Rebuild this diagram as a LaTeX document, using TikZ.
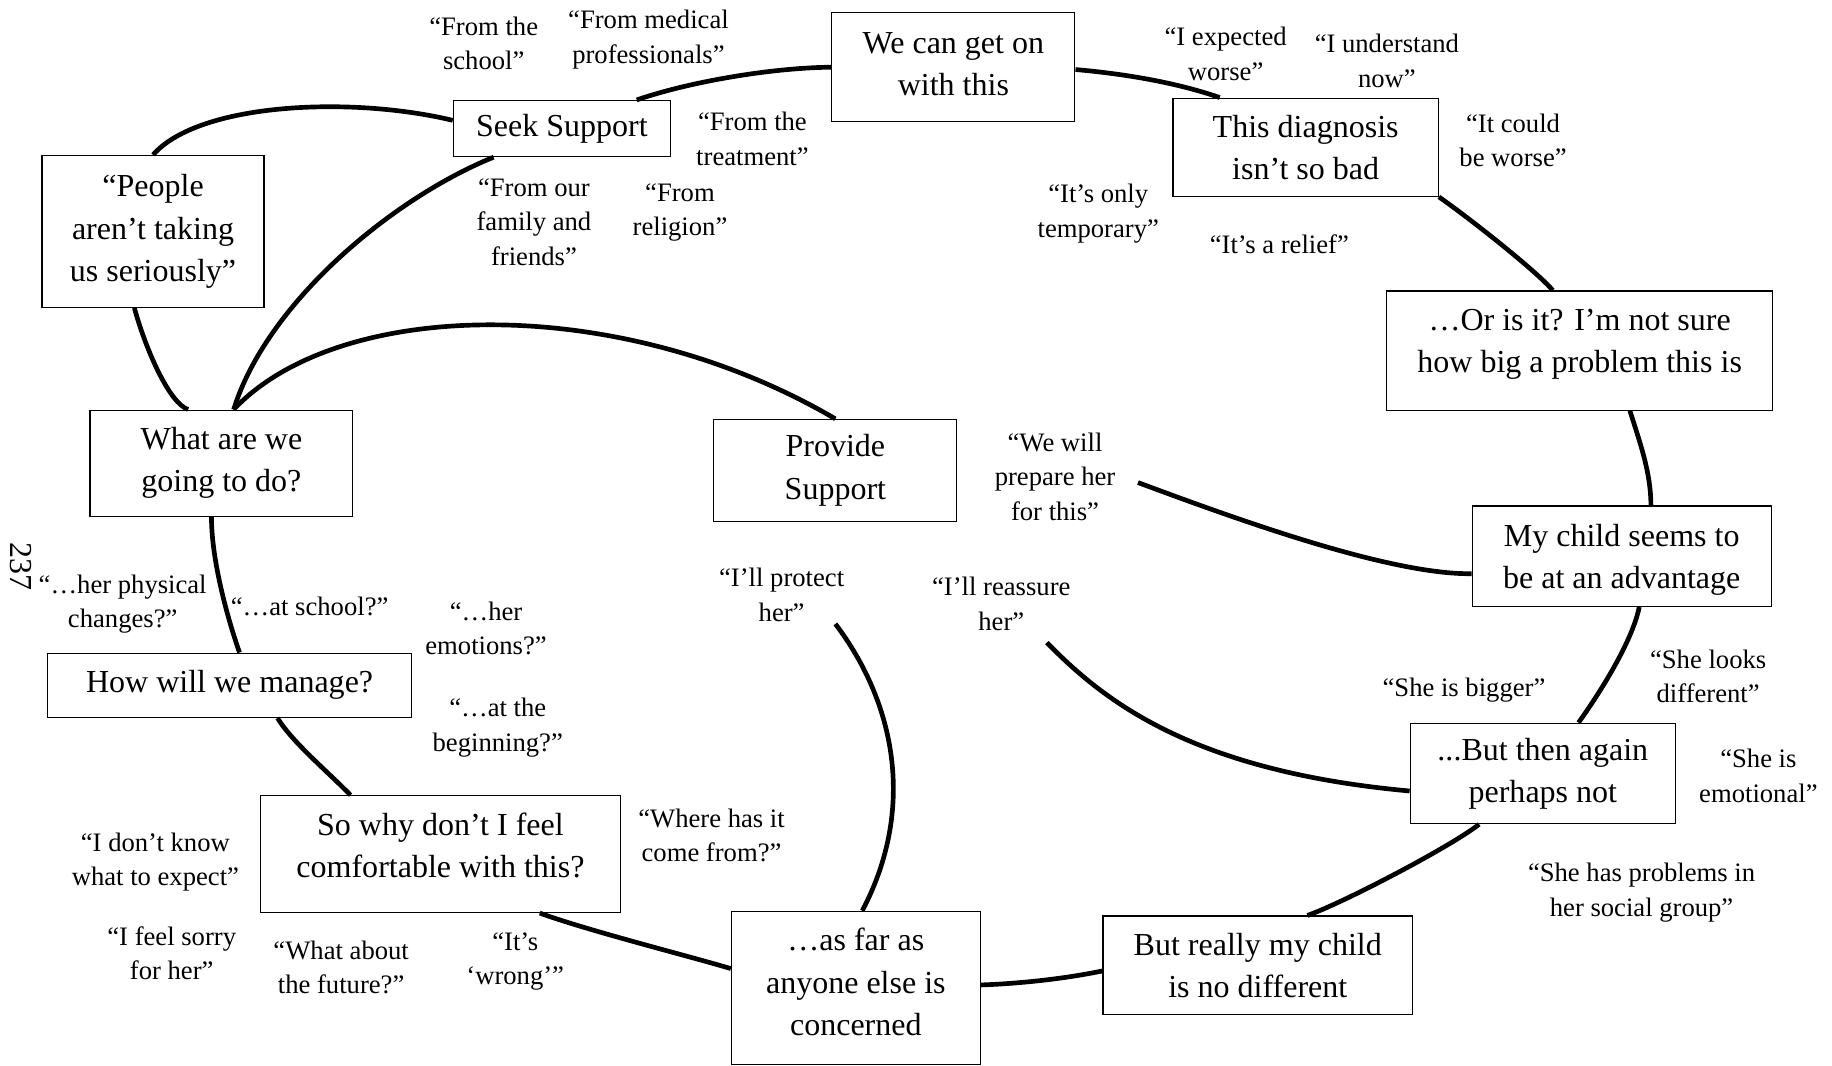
\documentclass[tikz,border=0pt]{standalone}
\usepackage{fontspec}
\setmainfont{Liberation Serif}
\usepackage{tikz}
\newcommand{\boxfont}{\fontsize{13.7}{18}\selectfont}
\newcommand{\quotefont}{\fontsize{11.4}{14.8}\selectfont}
% lift the lines of a box a little, keeping its size
\newcommand{\lift}[2]{\raisebox{#1}[\height][\depth]{\begin{tabular}{@{}c@{}}#2\end{tabular}}}

\begin{document}
\begin{tikzpicture}[x=0.5pt, y=-0.5pt,
    stage/.style={draw, line width=0.5pt, align=center, font=\boxfont, inner sep=0pt},
    quote/.style={align=center, font=\quotefont, inner sep=0pt},
    link/.style={line width=2pt}]

    \useasboundingbox (0,0) rectangle (1568,912);

    % stages of the cycle
    \node [stage, minimum width=104pt, minimum height=46.5pt] (wecan) at (816,57.5) {\lift{0.6pt}{We can get on\\with this}};
    \node [stage, minimum width=93pt, minimum height=24pt] (seek) at (481,110) {Seek Support};
    \node [stage, minimum width=95pt, minimum height=65pt] (people) at (131,198) {“People\\aren’t taking\\us seriously”};
    \node [stage, minimum width=112.5pt, minimum height=45.5pt] (whatare) at (189.5,396.5) {What are we\\going to do?};
    \node [stage, minimum width=104pt, minimum height=43.5pt] (provide) at (715,402.5) {Provide\\Support};
    \node [stage, minimum width=113.5pt, minimum height=42pt] (diag) at (1117.5,126) {This diagnosis\\isn’t so bad};
    \node [stage, minimum width=165pt, minimum height=51pt] (orisit) at (1352,300) {\lift{3pt}{…Or is it? I’m not sure\\how big a problem this is}};
    \node [stage, minimum width=128pt, minimum height=43pt] (mychild) at (1388,476) {\lift{-1.1pt}{My child seems to\\be at an advantage}};
    \node [stage, minimum width=113.5pt, minimum height=43pt] (butthen) at (1320.5,662) {...But then again\\perhaps not};
    \node [stage, minimum width=132.5pt, minimum height=42pt] (butreally) at (1076.5,826) {But really my child\\is no different};
    \node [stage, minimum width=106.5pt, minimum height=65.5pt] (asfar) at (732.5,845.5) {\lift{1.4pt}{…as far as\\anyone else is\\concerned}};
    \node [stage, minimum width=154pt, minimum height=50pt] (sowhy) at (377,731) {\lift{2.7pt}{So why don’t I feel\\comfortable with this?}};
    \node [stage, minimum width=155.5pt, minimum height=27.5pt] (howwill) at (196.5,586.5) {How will we manage?};

    % quotes
    \node [quote] (qschool) at (414,37) {“From the\\school”};
    \node [quote] (qmedical) at (555,34) {“From medical\\professionals”};
    \node [quote] (qtreat) at (644,119) {“From the\\treatment”};
    \node [quote] (qfamily) at (457,190) {“From our\\family and\\friends”};
    \node [quote] (qreligion) at (582,182) {“From\\religion”};
    \node [quote] (qexpected) at (1049,46) {“I expected\\worse”};
    \node [quote] (qunderstand) at (1187,52) {“I understand\\now”};
    \node [quote] (qcould) at (1295,120) {“It could\\be worse”};
    \node [quote] (qtemp) at (940,183) {“It’s only\\temporary”};
    \node [quote] (qrelief) at (1095,209) {“It’s a relief”};
    \node [quote] (qprepare) at (903,408) {“We will\\prepare her\\for this”};
    \node [quote] (qprotect) at (669,509) {“I’ll protect\\her”};
    \node [quote] (qreassure) at (857,517) {“I’ll reassure\\her”};
    \node [quote] (qlooks) at (1462,579) {“She looks\\different”};
    \node [quote] (qbigger) at (1253,591) {“She is bigger”};
    \node [quote] (qemotional) at (1505,664) {“She is\\emotional”};
    \node [quote] (qsocial) at (1405,764) {“She has problems in\\her social group”};
    \node [quote] (qphysical) at (105,517) {“…her physical\\changes?”};
    \node [quote] (qatschool) at (265,519) {“…at school?”};
    \node [quote] (qemotions) at (416,538) {“…her\\emotions?”};
    \node [quote] (qbeginning) at (426,623) {“…at the\\beginning?”};
    \node [quote] (qwhere) at (609,715) {“Where has it\\come from?”};
    \node [quote] (qknow) at (133,738) {“I don’t know\\what to expect”};
    \node [quote] (qsorry) at (147,816) {“I feel sorry\\for her”};
    \node [quote] (qfuture) at (292,828) {“What about\\the future?”};
    \node [quote] (qwrong) at (441,823) {“It’s\\‘wrong’”};

    \node [font=\boxfont, inner sep=0pt, rotate=-90] (pageno) at (18,485) {237};

    % the cycle
    \draw [link] ([shift={(64,0)}]seek.north) .. controls (590,70) and (660,58) .. (wecan.west);
    \draw [link] ([shift={(0,2)}]wecan.east) .. controls (960,63) and (1005,70) .. ([shift={(-73.5,0)}]diag.north);
    \draw [link] (diag.south east) .. controls (1258,187) and (1315,232) .. ([shift={(-23,0)}]orisit.north);
    \draw [link] ([shift={(43,0)}]orisit.south) .. controls (1404,380) and (1413,405) .. ([shift={(25,0)}]mychild.north);
    \draw [link] ([shift={(15,0)}]mychild.south) .. controls (1398,545) and (1375,585) .. ([shift={(30.5,0)}]butthen.north);
    \draw [link] ([shift={(-54.5,0)}]butthen.south) .. controls (1241,725) and (1149,773) .. ([shift={(42.5,0)}]butreally.north);
    \draw [link] ([shift={(0,5)}]butreally.west) .. controls (910,838) and (870,842) .. ([shift={(0,-2.5)}]asfar.east);
    \draw [link] ([shift={(0,-16.5)}]asfar.west) .. controls (585,817) and (505,797) .. ([shift={(85,0)}]sowhy.south);
    \draw [link] ([shift={(-77,0)}]sowhy.north) .. controls (280,660) and (250,635) .. ([shift={(41,0)}]howwill.south);
    \draw [link] ([shift={(8.5,0)}]howwill.north) .. controls (195,530) and (181,480) .. ([shift={(-8.5,0)}]whatare.south);
    \draw [link] ([shift={(-16,0)}]people.south) .. controls (125,300) and (145,345) .. ([shift={(-28.5,0)}]whatare.north);
    \draw [link] ([shift={(10.5,0)}]whatare.north) .. controls (228,260) and (335,170) .. ([shift={(-58.5,0)}]seek.south);
    \draw [link] (people.north) .. controls (170,88) and (300,82) .. ([shift={(0,-7)}]seek.west);
    \draw [link] ([shift={(10.5,0)}]whatare.north) .. controls (290,255) and (530,250) .. (provide.north);

    % from the quotes
    \draw [link] ([shift={(71,5)}]qprepare.center) .. controls (1060,445) and (1190,492) .. ([shift={(0,15)}]mychild.west);
    \draw [link] ([shift={(39,33)}]qreassure.center) .. controls (945,600) and (1020,660) .. ([shift={(0,15)}]butthen.west);
    \draw [link] ([shift={(46,25)}]qprotect.center) .. controls (765,600) and (785,690) .. ([shift={(5.5,0)}]asfar.north);
\end{tikzpicture}
\end{document}
